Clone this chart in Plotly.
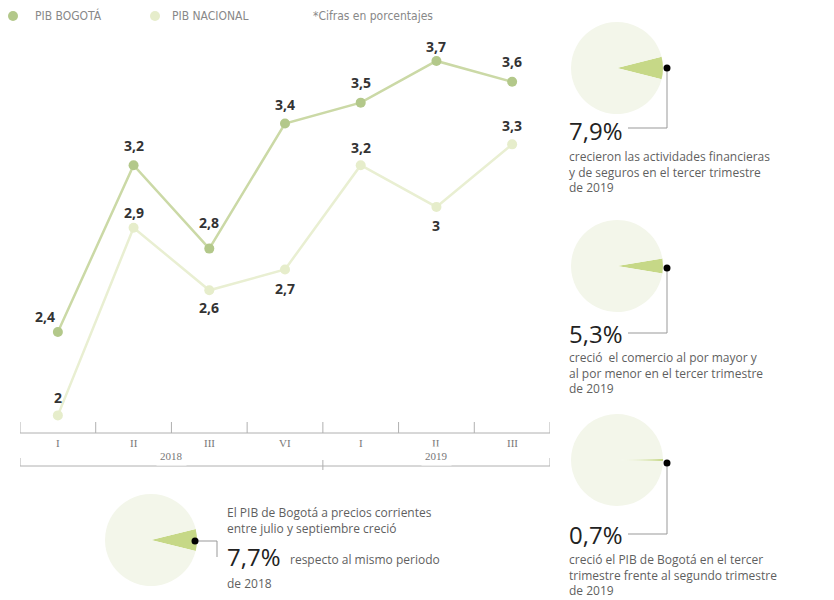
import plotly.graph_objects as go

# Quarterly GDP growth (%)
quarters = ["I", "II", "III", "VI", "I", "II", "III"]
years = ["2018", "2019"]
pib_bogota = [2.4, 3.2, 2.8, 3.4, 3.5, 3.7, 3.6]
pib_nacional = [2.0, 2.9, 2.6, 2.7, 3.2, 3.0, 3.3]

# Highlighted growth figures shown as small pies
pie_values = [7.9, 5.3, 0.7, 7.7]
pie_numbers = ["7,9%", "5,3%", "0,7%", "7,7%"]
pie_texts = [
    "crecieron las actividades financieras<br>y de seguros en el tercer trimestre<br>de 2019",
    "creció  el comercio al por mayor y<br>al por menor en el tercer trimestre<br>de 2019",
    "creció el PIB de Bogotá en el tercer<br>trimestre frente al segundo trimestre<br>de 2019",
]
bottom_intro = "El PIB de Bogotá a precios corrientes<br>entre julio y septiembre creció"
bottom_tail = "respecto al mismo periodo"
bottom_last = "de 2018"

W, H = 834, 600
C_BOG_LINE = "#cbd9a6"
C_BOG_MK = "#b3c88a"
C_NAC_LINE = "#e9efd2"
C_NAC_MK = "#e6edcb"
C_PIE_BG = "#f3f6ea"
C_WEDGE = "#c6d887"
C_TXT = "#5f5f5f"
C_AX = "#b0b0b0"
FONT = "Open Sans, Noto Sans, sans-serif"
FONT_NARROW = "Liberation Sans Narrow, DejaVu Sans Condensed, Open Sans, sans-serif"


def px(x):
    return x / W


def py(y):
    return 1 - y / H


def fmt(v):
    return f"{v:g}".replace(".", ",")


fig = go.Figure()

xs = list(range(len(quarters)))

fig.add_trace(go.Scatter(
    x=xs, y=pib_nacional, mode="lines+markers",
    line=dict(color=C_NAC_LINE, width=2.5),
    marker=dict(color=C_NAC_MK, size=10),
    cliponaxis=False, hoverinfo="skip", showlegend=False,
))
fig.add_trace(go.Scatter(
    x=xs, y=pib_bogota, mode="lines+markers",
    line=dict(color=C_BOG_LINE, width=2.5),
    marker=dict(color=C_BOG_MK, size=10),
    cliponaxis=False, hoverinfo="skip", showlegend=False,
))

annotations = []

# Value labels: (x shift, y shift) in pixels relative to each point
bog_shift = [(-13, 16), (0, 20), (0, 26), (0, 19), (0, 20), (0, 14), (0, 20)]
nac_shift = [(0, 18), (0, 15), (0, -17), (0, -19), (0, 18), (0, -19), (0, 19)]
for series, shifts in [(pib_bogota, bog_shift), (pib_nacional, nac_shift)]:
    for i, (v, (dx, dy)) in enumerate(zip(series, shifts)):
        annotations.append(dict(x=i, y=v, xref="x", yref="y", text=fmt(v), showarrow=False,
                                xshift=dx, yshift=dy, yanchor="middle",
                                font=dict(family=FONT, size=14, color="#333333", weight="bold")))

# Pie geometry (pixel centres, radius)
pie_geo = [(617, 68, 46), (617, 266, 46), (617, 460, 46), (151, 540, 46)]
for (cx, cy, r), v in zip(pie_geo, pie_values):
    ang = v / 100 * 360
    fig.add_trace(go.Pie(
        values=[v, 100 - v], sort=False, direction="clockwise",
        rotation=90 - ang / 2,
        marker=dict(colors=[C_WEDGE, C_PIE_BG], line=dict(width=0)),
        textinfo="none", hoverinfo="skip", showlegend=False,
        domain=dict(x=[px(cx - r), px(cx + r)], y=[py(cy + r), py(cy - r)]),
    ))

shapes = []

# Bottom axis: quarter separators
y_axis_px = 433
for i in range(len(quarters) + 1):
    shapes.append(dict(type="line", xref="x", yref="paper",
                       x0=i - 0.5, x1=i - 0.5, y0=py(y_axis_px - 11), y1=py(y_axis_px),
                       line=dict(color=C_AX, width=1)))
shapes.append(dict(type="line", xref="x", yref="paper", x0=-0.5, x1=len(quarters) - 0.5,
                   y0=py(y_axis_px), y1=py(y_axis_px), line=dict(color=C_AX, width=1)))
for i, q in enumerate(quarters):
    annotations.append(dict(x=i, y=py(451), xref="x", yref="paper", text=q, showarrow=False,
                            font=dict(family="Liberation Serif, DejaVu Serif, serif", size=11, color="#777777")))

# Year brackets
y_year = 466
shapes.append(dict(type="line", xref="x", yref="paper", x0=-0.5, x1=len(quarters) - 0.5,
                   y0=py(y_year), y1=py(y_year), line=dict(color=C_AX, width=1)))
for xv, y0 in [(-0.5, y_year - 8), (len(quarters) - 0.5, y_year - 8), (3.5, y_year - 6)]:
    shapes.append(dict(type="line", xref="x", yref="paper", x0=xv, x1=xv,
                       y0=py(y0), y1=py(y_year + (4 if xv == 3.5 else 0)),
                       line=dict(color=C_AX, width=1)))
for xv, yr in [(1.5, years[0]), (5.0, years[1])]:
    annotations.append(dict(x=xv, y=py(y_year), xref="x", yref="paper", text=yr, showarrow=False,
                            bgcolor="white", borderpad=3,
                            font=dict(family="Liberation Serif, DejaVu Serif, serif", size=11, color="#777777")))

# Legend row
for cx, col in [(13, C_BOG_MK), (155, C_NAC_MK)]:
    shapes.append(dict(type="circle", xref="paper", yref="paper",
                       x0=px(cx - 5), x1=px(cx + 5), y0=py(21), y1=py(11),
                       fillcolor=col, line=dict(width=0)))
for x0, t in [(33, "PIB BOGOTÁ"), (170, "PIB NACIONAL"), (311, "*Cifras en porcentajes")]:
    annotations.append(dict(x=px(x0), y=py(16), xref="paper", yref="paper", text=t, showarrow=False,
                            xanchor="left", yanchor="middle",
                            font=dict(family=FONT_NARROW, size=12, color="#888888")))

# Right column callouts: (dot y, connector y, number y, text y)
right = [(68, 128, 130, 172), (268, 333, 333, 373), (463, 534, 534, 575)]
for k, (ydot, yline, ynum, ytxt) in enumerate(right):
    xd = 667
    shapes.append(dict(type="path", xref="paper", yref="paper",
                       path=f"M {px(xd)} {py(ydot)} L {px(xd)} {py(yline)} L {px(628)} {py(yline)}",
                       line=dict(color="#999999", width=1)))
    shapes.append(dict(type="circle", xref="paper", yref="paper",
                       x0=px(xd - 3.5), x1=px(xd + 3.5), y0=py(ydot + 3.5), y1=py(ydot - 3.5),
                       fillcolor="black", line=dict(width=0)))
    annotations.append(dict(x=px(567), y=py(ynum), xref="paper", yref="paper", text=pie_numbers[k],
                            showarrow=False, xanchor="left", yanchor="middle",
                            font=dict(family=FONT, size=24, color="#222222")))
    annotations.append(dict(x=px(567), y=py(ytxt), xref="paper", yref="paper", text=pie_texts[k],
                            showarrow=False, xanchor="left", yanchor="middle", align="left",
                            font=dict(family=FONT, size=12, color=C_TXT)))

# Bottom callout
shapes.append(dict(type="path", xref="paper", yref="paper",
                   path=f"M {px(195)} {py(541)} L {px(217)} {py(541)} L {px(217)} {py(557)}",
                   line=dict(color="#999999", width=1)))
shapes.append(dict(type="circle", xref="paper", yref="paper",
                   x0=px(195 - 3.5), x1=px(195 + 3.5), y0=py(541 + 3.5), y1=py(541 - 3.5),
                   fillcolor="black", line=dict(width=0)))
annotations.append(dict(x=px(225), y=py(520), xref="paper", yref="paper", text=bottom_intro,
                        showarrow=False, xanchor="left", yanchor="middle", align="left",
                        font=dict(family=FONT, size=12, color=C_TXT)))
annotations.append(dict(x=px(225), y=py(556), xref="paper", yref="paper", text=pie_numbers[3],
                        showarrow=False, xanchor="left", yanchor="middle",
                        font=dict(family=FONT, size=24, color="#222222")))
annotations.append(dict(x=px(288), y=py(559), xref="paper", yref="paper", text=bottom_tail,
                        showarrow=False, xanchor="left", yanchor="middle", align="left",
                        font=dict(family=FONT, size=12, color=C_TXT)))
annotations.append(dict(x=px(225), y=py(583), xref="paper", yref="paper", text=bottom_last,
                        showarrow=False, xanchor="left", yanchor="middle", align="left",
                        font=dict(family=FONT, size=12, color=C_TXT)))

# Plot area mapping: x category i centred at 20 + (i + 0.5) * 75.7 px
y_top_px, y_bot_px = 40, y_axis_px
scale = 208.5  # px per percentage point
y_hi = 2.4 + (332 - y_top_px) / scale
y_lo = 2.4 - (y_bot_px - 332) / scale

fig.update_layout(
    width=W, height=H,
    margin=dict(l=0, r=0, t=0, b=0),
    paper_bgcolor="white", plot_bgcolor="white",
    xaxis=dict(domain=[px(20), px(550)], range=[-0.5, len(quarters) - 0.5],
               visible=False, fixedrange=True),
    yaxis=dict(domain=[py(y_bot_px), py(y_top_px)], range=[y_lo, y_hi],
               visible=False, fixedrange=True),
    shapes=shapes, annotations=annotations,
)

fig.write_html("out.html")
